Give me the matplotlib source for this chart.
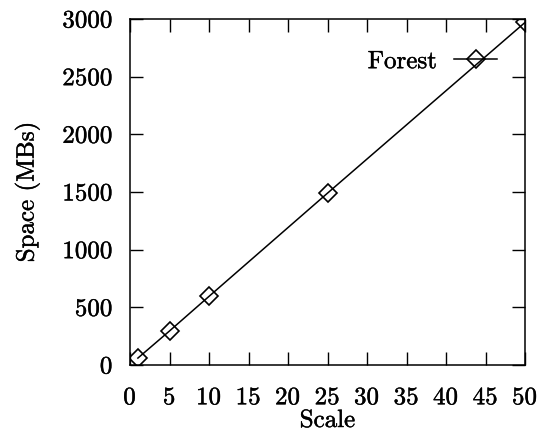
import matplotlib
matplotlib.use("Agg")
import matplotlib.pyplot as plt
import matplotlib.patheffects as pe

scale = [1, 5, 10, 25, 50]
space_mb = [60, 295, 595, 1490, 2970]
x_ticks = [0, 5, 10, 15, 20, 25, 30, 35, 40, 45, 50]
y_ticks = [0, 500, 1000, 1500, 2000, 2500, 3000]

plt.rcParams['font.family'] = 'serif'
plt.rcParams['font.serif'] = ['cmr10']
plt.rcParams['axes.formatter.use_mathtext'] = True
plt.rcParams['mathtext.fontset'] = 'cm'

stroke = [pe.withStroke(linewidth=0.3, foreground='black')]

fig = plt.figure(figsize=(5.38, 4.34), dpi=100)
ax = fig.add_axes([130/538, (434-365)/434, 395/538, 346/434])
ax.plot(scale, space_mb, color='black', lw=1.1, marker='D', ms=9,
        mfc='none', mec='black', mew=1.2, label='Forest')
ax.set_xlim(0, 50)
ax.set_ylim(0, 3000)
ax.set_xticks(x_ticks)
ax.set_yticks(y_ticks)
ax.tick_params(direction='in', length=9.5, width=1, top=True, right=True,
               labelsize=18)
ax.tick_params(axis='y', pad=12)
ax.tick_params(axis='x', pad=16)
for s in ax.spines.values():
    s.set_linewidth(1.1)
ax.set_xlabel('Scale', fontsize=18, va='baseline')
ax.xaxis.set_label_coords(0.5, (365 - 427) / 346)
ax.set_ylabel('Space (MBs)', fontsize=18, labelpad=16)
leg = ax.legend(loc='center right', bbox_to_anchor=(0.929, 0.876), frameon=False,
                markerfirst=False, fontsize=18, handlelength=1.7, handletextpad=0.7,
                borderpad=0, borderaxespad=0)
texts = list(ax.get_xticklabels()) + list(ax.get_yticklabels()) + \
    [ax.xaxis.label, ax.yaxis.label] + list(leg.get_texts())
for t in texts:
    t.set_path_effects(stroke)
fig.savefig('out.png', dpi=100)
